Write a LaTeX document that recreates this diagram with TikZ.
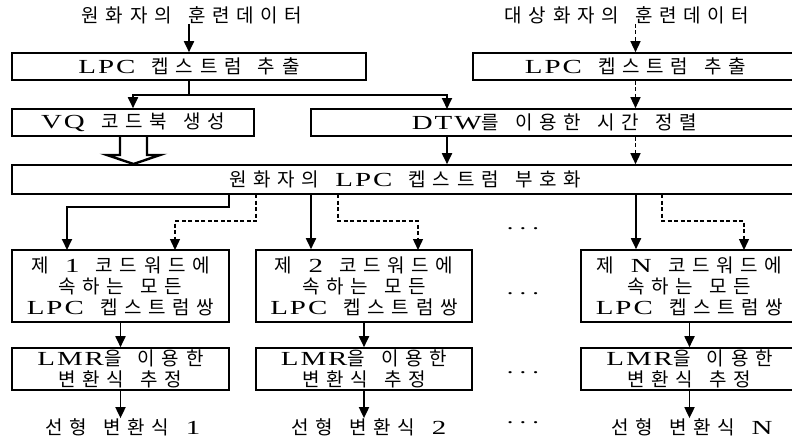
\documentclass[tikz,border=0pt]{standalone}
\usepackage{fontspec}
\setmainfont{Noto Sans CJK KR}[LetterSpace=35,WordSpace=1.5]
\newfontfamily\latf{Liberation Serif}[LetterSpace=10,Scale=1.05,FakeStretch=1.45]
\newcommand\lt[1]{{\latf #1}}
\usetikzlibrary{arrows.meta}
\tikzset{
  box/.style={draw, line width=1.6pt, rectangle, inner sep=0pt, align=center,
              font=\fontsize{19}{21}\selectfont},
  lbl/.style={inner sep=0pt, font=\fontsize{19}{21}\selectfont},
  dotsl/.style={inner sep=0pt, font=\fontsize{17.5}{21}\selectfont\latf},
  arr/.style={line width=1.8pt, -{Triangle[length=11pt,width=10pt]}},
  darr/.style={line width=1.4pt, dash pattern=on 4pt off 2.5pt, -{Triangle[length=11pt,width=10pt]}},
  sline/.style={line width=1.8pt},
  hollow/.style={line width=2.4pt, line join=miter},
}
\begin{document}
\begin{tikzpicture}[x=1pt,y=-1pt]
\useasboundingbox (0,0) rectangle (792,439);
\clip (0,0) rectangle (792,439);
\fill[white] (0,0) rectangle (792,439);

% titles
\node[lbl] (tA) at (192,15) {원화자의 훈련데이터};
\node[lbl] (tB) at (627,15) {대상화자의 훈련데이터};

% top boxes
\node[box, minimum width=354pt, minimum height=27pt] (lpcA) at (189,66.5) {\lt{LPC} 켑스트럼 추출};
\node[box, minimum width=325pt, minimum height=27pt] (lpcB) at (635.5,66.5) {\lt{LPC} 켑스트럼 추출};
\node[box, minimum width=242pt, minimum height=27pt] (vq) at (133,122.5) {\lt{VQ} 코드북 생성};
\node[box, minimum width=487pt, minimum height=27pt] (dtw) at (554.5,122.5) {\lt{DTW}를 이용한 시간 정렬};
\node[box, minimum width=786pt, minimum height=29pt] (enc) at (405,179.5) {원화자의 \lt{LPC} 켑스트럼 부호화};

% codeword boxes
\node[box, minimum width=217pt, minimum height=72pt] (cw1) at (120.5,286) {제 \lt{1} 코드워드에\\속하는 모든\\\lt{LPC} 켑스트럼쌍};
\node[box, minimum width=216pt, minimum height=72pt] (cw2) at (364,286) {제 \lt{2} 코드워드에\\속하는 모든\\\lt{LPC} 켑스트럼쌍};
\node[box, minimum width=217pt, minimum height=72pt] (cwN) at (689.5,286) {제 \lt{N} 코드워드에\\속하는 모든\\\lt{LPC} 켑스트럼쌍};

% LMR boxes
\node[box, minimum width=217pt, minimum height=42pt] (lm1) at (120.5,369) {\lt{LMR}을 이용한\\변환식 추정};
\node[box, minimum width=216pt, minimum height=42pt] (lm2) at (364,369) {\lt{LMR}을 이용한\\변환식 추정};
\node[box, minimum width=217pt, minimum height=42pt] (lmN) at (689.5,369) {\lt{LMR}을 이용한\\변환식 추정};

% outputs
\node[lbl] (o1) at (123,427) {선형 변환식 \lt{1}};
\node[lbl] (o2) at (369,427) {선형 변환식 \lt{2}};
\node[lbl] (oN) at (692,427) {선형 변환식 \lt{N}};

% dots
\node[dotsl] (d1) at (523,229) {.\,\,.\,\,.};
\node[dotsl] (d2) at (523,294) {.\,\,.\,\,.};
\node[dotsl] (d3) at (523,373) {.\,\,.\,\,.};
\node[dotsl] (d4) at (523,423) {.\,\,.\,\,.};

% coordinates
\coordinate (j1) at (189,95);
\coordinate (dtwA) at (447,109);
\coordinate (s1) at (229,194);  \coordinate (i1s) at (67,250);
\coordinate (q1) at (256,194);  \coordinate (i1d) at (175,250);
\coordinate (s2) at (311,194);
\coordinate (q2) at (338,194);  \coordinate (i2d) at (418,250);
\coordinate (sN) at (636,194);
\coordinate (qN) at (662,194);  \coordinate (iNd) at (744,250);

% top connectors
\draw[arr] (tA.south -| lpcA.north) -- (lpcA.north);
\draw[darr] (lpcB.north |- tB.south) -- (lpcB.north);
\draw[darr] (lpcB.south) -- (lpcB.south |- dtw.north);
\draw[sline] (lpcA.south) -- (j1);
\draw[arr] (j1) -| (vq.north);
\draw[arr] (j1) -| (dtwA);
\draw[arr] (dtwA |- dtw.south) -- (dtwA |- enc.north);
\draw[darr] (lpcB.south |- dtw.south) -- (lpcB.south |- enc.north);

% hollow double arrow
\draw[hollow] (120,136) -- (120,155) -- (107,155) -- (133.5,164) -- (160,155) -- (147,155) -- (147,136);

% encoder outputs
\draw[arr] (s1) -- ++(0,13) -| (i1s);
\draw[darr] (q1) -- ++(0,27) -| (i1d);
\draw[arr] (s2) -- (s2 |- cw2.north);
\draw[darr] (q2) -- ++(0,27) -| (i2d);
\draw[arr] (sN) -- (sN |- cwN.north);
\draw[darr] (qN) -- ++(0,27) -| (iNd);

% lower chains
\draw[arr] (cw1.south) -- (lm1.north);
\draw[arr] (cw2.south) -- (lm2.north);
\draw[arr] (cwN.south) -- (lmN.north);
\draw[arr] (lm1.south) -- (lm1.south |- o1.north);
\draw[arr] (lm2.south) -- (lm2.south |- o2.north);
\draw[arr] (lmN.south) -- (lmN.south |- oN.north);
\end{tikzpicture}
\end{document}
